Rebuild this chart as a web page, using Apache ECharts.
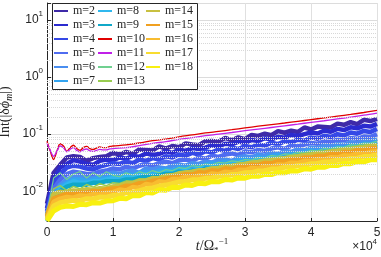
<!DOCTYPE html>
<html><head><meta charset="utf-8">
<script src="https://cdn.jsdelivr.net/npm/echarts@6/dist/echarts.min.js"></script>
<style>html,body{margin:0;padding:0;background:#fff}#c{width:381px;height:257px}</style>
</head><body><div id="c"></div>
<script>
// time samples (simulation time, units of 1/Omega_*)
const t = [0,1000,2000,3000,4000,5000,6000,7000,8000,9000,10000,11000,12000,13000,14000,15000,16000,17000,18000,19000,20000,21000,22000,23000,24000,25000,26000,27000,28000,29000,30000,31000,32000,33000,34000,35000,36000,37000,38000,39000,40000,41000,42000,43000,44000,45000,46000,47000,48000,49000,50000];
const tOsc = [0,500,1000,1500,2000,2500,3000,3500,4000,4500,5000,5500,6000,6500,7000,7500,8000,8500,9000,9500,10000,12000,14000,16000,18000,20000,22000,24000,26000,28000,30000,32000,34000,36000,38000,40000,42000,44000,46000,48000,50000];

const m2 = [0.006,0.021,0.029,0.039,0.041,0.04,0.034,0.038,0.04,0.041,0.047,0.044,0.049,0.045,0.054,0.053,0.052,0.061,0.056,0.062,0.059,0.069,0.066,0.064,0.075,0.076,0.074,0.086,0.078,0.088,0.082,0.097,0.093,0.102,0.096,0.113,0.106,0.115,0.109,0.131,0.121,0.136,0.134,0.131,0.153,0.146,0.163,0.15,0.179,0.17,0.185];
const m3 = [0.005,0.016,0.026,0.03,0.035,0.033,0.03,0.029,0.034,0.036,0.035,0.039,0.037,0.042,0.04,0.046,0.043,0.045,0.05,0.047,0.054,0.051,0.057,0.055,0.058,0.064,0.061,0.068,0.066,0.074,0.07,0.079,0.076,0.085,0.081,0.09,0.087,0.097,0.093,0.1,0.107,0.103,0.116,0.11,0.124,0.118,0.132,0.127,0.14,0.136,0.152];
const m4 = [0.0045,0.013,0.02,0.026,0.028,0.027,0.025,0.024,0.027,0.029,0.031,0.03,0.033,0.031,0.036,0.034,0.038,0.036,0.041,0.039,0.044,0.042,0.047,0.044,0.05,0.048,0.054,0.051,0.058,0.055,0.062,0.059,0.066,0.063,0.071,0.067,0.075,0.072,0.08,0.077,0.088,0.083,0.094,0.089,0.1,0.095,0.107,0.102,0.114,0.109,0.124];
const m5 = [0.004,0.011,0.016,0.02,0.022,0.021,0.02,0.02,0.022,0.023,0.025,0.024,0.027,0.025,0.028,0.03,0.028,0.031,0.033,0.031,0.035,0.036,0.034,0.039,0.037,0.042,0.04,0.044,0.046,0.043,0.05,0.048,0.053,0.051,0.056,0.059,0.055,0.063,0.061,0.066,0.07,0.068,0.075,0.073,0.08,0.078,0.086,0.083,0.091,0.089,0.1];
const m6 = [0.0037,0.009,0.013,0.016,0.018,0.018,0.017,0.017,0.018,0.02,0.021,0.02,0.022,0.023,0.021,0.025,0.024,0.026,0.025,0.028,0.029,0.028,0.031,0.03,0.033,0.032,0.035,0.036,0.034,0.039,0.041,0.039,0.044,0.042,0.047,0.045,0.05,0.049,0.054,0.052,0.058,0.057,0.063,0.061,0.067,0.065,0.072,0.07,0.077,0.075,0.083];
const m7 = [0.0035,0.008,0.012,0.014,0.016,0.016,0.015,0.016,0.017,0.017,0.019,0.018,0.02,0.019,0.021,0.022,0.021,0.023,0.024,0.023,0.026,0.025,0.028,0.027,0.029,0.031,0.03,0.033,0.032,0.035,0.037,0.035,0.039,0.038,0.041,0.043,0.041,0.046,0.045,0.049,0.052,0.05,0.055,0.054,0.059,0.058,0.063,0.062,0.068,0.067,0.074];
const m8 = [0.0033,0.007,0.011,0.013,0.015,0.014,0.014,0.015,0.015,0.016,0.017,0.016,0.018,0.017,0.019,0.02,0.019,0.021,0.022,0.021,0.023,0.024,0.023,0.026,0.025,0.027,0.028,0.027,0.03,0.031,0.033,0.032,0.035,0.034,0.037,0.038,0.037,0.041,0.042,0.044,0.047,0.045,0.049,0.05,0.053,0.052,0.057,0.058,0.061,0.06,0.067];
const m9 = [0.003,0.006,0.01,0.012,0.013,0.013,0.013,0.014,0.014,0.015,0.015,0.015,0.016,0.016,0.017,0.018,0.018,0.019,0.02,0.02,0.022,0.021,0.023,0.022,0.025,0.024,0.026,0.027,0.026,0.029,0.03,0.029,0.032,0.031,0.034,0.035,0.034,0.037,0.039,0.038,0.043,0.042,0.045,0.046,0.048,0.05,0.052,0.053,0.056,0.057,0.061];
const m10 = [0.075,0.05,0.036,0.05,0.068,0.062,0.05,0.058,0.064,0.056,0.052,0.058,0.061,0.056,0.054,0.057,0.06,0.058,0.058,0.061,0.062,0.065,0.07,0.077,0.082,0.09,0.097,0.105,0.112,0.12,0.129,0.138,0.147,0.157,0.168,0.18,0.193,0.207,0.222,0.24,0.262];
const m11 = [0.07,0.052,0.041,0.05,0.062,0.058,0.049,0.054,0.058,0.052,0.049,0.053,0.055,0.051,0.05,0.052,0.054,0.053,0.053,0.055,0.056,0.058,0.063,0.069,0.074,0.081,0.087,0.094,0.1,0.107,0.115,0.123,0.131,0.14,0.15,0.161,0.172,0.185,0.199,0.215,0.235];
const m12 = [0.004,0.017,0.021,0.016,0.02,0.022,0.017,0.021,0.018,0.022,0.019,0.018,0.021,0.019,0.022,0.02,0.023,0.021,0.024,0.023,0.026,0.025,0.028,0.027,0.03,0.029,0.032,0.031,0.034,0.033,0.036,0.035,0.039,0.038,0.042,0.041,0.045,0.044,0.048,0.047,0.052,0.051,0.056,0.055,0.06,0.059,0.065,0.064,0.07,0.069,0.076];
const m13 = [0.0035,0.011,0.0125,0.0102,0.0121,0.011,0.0131,0.0118,0.0135,0.0125,0.0141,0.0137,0.0152,0.0149,0.0165,0.0163,0.0181,0.0178,0.0197,0.0195,0.0216,0.0224,0.0232,0.0243,0.0251,0.0263,0.0273,0.0285,0.0296,0.031,0.0322,0.0334,0.0349,0.0362,0.0377,0.0392,0.0407,0.0424,0.0441,0.0458,0.0476,0.0495,0.0514,0.0534,0.0554,0.0576,0.0598,0.0621,0.0645,0.0669,0.0685];
const m14 = [0.0038,0.009,0.0098,0.0094,0.0103,0.0101,0.0108,0.0106,0.0113,0.0112,0.0121,0.0125,0.0136,0.0139,0.0151,0.0154,0.0168,0.0171,0.0186,0.019,0.0206,0.0213,0.0219,0.0232,0.0236,0.025,0.0255,0.0269,0.0276,0.0292,0.0301,0.0315,0.0324,0.0339,0.035,0.0365,0.0376,0.0394,0.0405,0.0424,0.0437,0.0456,0.047,0.0491,0.0506,0.0528,0.0545,0.0568,0.0586,0.0611,0.0628];
const m15 = [0.0036,0.0075,0.0082,0.009,0.0088,0.0095,0.0094,0.0101,0.0099,0.0108,0.0112,0.0114,0.0125,0.0126,0.0138,0.0141,0.0152,0.0158,0.0168,0.0176,0.0185,0.0199,0.0196,0.0215,0.0211,0.0233,0.0226,0.0252,0.0244,0.0271,0.0266,0.0292,0.0286,0.0313,0.0308,0.0337,0.0333,0.0362,0.0359,0.039,0.0388,0.042,0.0415,0.0452,0.0446,0.0486,0.048,0.0523,0.0517,0.0562,0.0575];
const m16 = [0.0034,0.0065,0.0074,0.0079,0.0077,0.0084,0.0082,0.0089,0.0087,0.0094,0.0096,0.0107,0.0103,0.0119,0.0114,0.0134,0.0128,0.0149,0.0143,0.0164,0.0163,0.0178,0.0172,0.019,0.0184,0.0205,0.0199,0.022,0.0214,0.0238,0.0235,0.0255,0.025,0.0274,0.0269,0.0295,0.0289,0.0317,0.0311,0.0342,0.0338,0.0366,0.0362,0.0394,0.0389,0.0424,0.0419,0.0457,0.0452,0.0491,0.0503];
const m17 = [0.0032,0.0055,0.0063,0.0066,0.0069,0.0068,0.0074,0.0073,0.0079,0.0078,0.0084,0.0086,0.0094,0.0096,0.0102,0.011,0.0114,0.0122,0.0128,0.0135,0.0146,0.0148,0.0158,0.0159,0.0168,0.0171,0.0182,0.0184,0.0196,0.0198,0.0211,0.0212,0.0227,0.0229,0.0244,0.0246,0.0262,0.0265,0.0282,0.0284,0.0303,0.0306,0.0325,0.0328,0.0349,0.0353,0.0376,0.0379,0.0404,0.0408,0.0433];
const m18 = [0.003,0.0045,0.0052,0.0055,0.0054,0.0059,0.0058,0.0063,0.0062,0.0067,0.0068,0.0075,0.0074,0.0084,0.0083,0.0095,0.0093,0.0106,0.0104,0.0117,0.0116,0.0129,0.0126,0.0138,0.0135,0.0148,0.0146,0.016,0.0157,0.0171,0.0169,0.0184,0.0182,0.0198,0.0196,0.0213,0.021,0.0229,0.0226,0.0247,0.0243,0.0265,0.0262,0.0286,0.0282,0.0307,0.0304,0.0331,0.0327,0.0356,0.0355];

const modes = ['m=2','m=3','m=4','m=5','m=6','m=7','m=8','m=9','m=10','m=11','m=12','m=13','m=14','m=15','m=16','m=17','m=18'];
const values = [m2,m3,m4,m5,m6,m7,m8,m9,m10,m11,m12,m13,m14,m15,m16,m17,m18];
const colors = ['#3e2aa8','#2b2bcf','#3548e6','#4f6cf0','#4a8ef0','#33a4f0','#30b8ee','#10a8c8','#e00000','#c020e8','#70d090','#98cc50','#c8c040','#f0a020','#f8bc30','#f8dc30','#f8f010'];
const widths = [4.5,4.5,4.5,4.5,4.5,4.5,4.5,4.5,1.3,1.3,1.2,1.5,4.5,4.5,4.5,5,5];
const minorGrid = [0.004,0.005,0.006,0.007,0.008,0.009,0.02,0.03,0.04,0.05,0.06,0.07,0.08,0.09,0.2,0.3,0.4,0.5,0.6,0.7,0.8,0.9,2,3,4,5,6,7,8,9];

const txt = '#262626';
const series = modes.map((name, k) => {
  const xs = (name === 'm=10' || name === 'm=11') ? tOsc : t;
  return {
    name, type: 'line', showSymbol: false, symbol: 'none',
    smooth: (name === 'm=10' || name === 'm=11') ? 0.35 : false,
    color: colors[k],
    lineStyle: { width: widths[k], color: colors[k] },
    data: xs.map((x, i) => [x, values[k][i]]),
    z: 3, animation: false
  };
});
series.unshift({
  type: 'line', data: [], z: 1, silent: true, animation: false,
  markLine: {
    silent: true, symbol: ['none', 'none'], label: { show: false }, animation: false,
    lineStyle: { type: [1, 1], color: '#d8d8d8', width: 1 },
    data: minorGrid.map(v => ({ yAxis: v }))
  }
});

const chart = echarts.init(document.getElementById('c'), null, { renderer: 'canvas' });
const legendCommon = {
  orient: 'vertical', padding: 0, itemGap: 0, itemWidth: 14, itemHeight: 2, icon: 'rect',
  textStyle: { fontFamily: 'Liberation Serif', fontSize: 12, color: txt, lineHeight: 14 },
  z: 11, selectedMode: false
};
chart.setOption({
  animation: false,
  backgroundColor: '#fff',
  grid: { left: 47, right: 4, top: 3, bottom: 36, containLabel: false, outerBoundsMode: 'none' },
  legend: [
    Object.assign({ left: 54, top: 4, data: modes.slice(0, 6) }, legendCommon),
    Object.assign({ left: 98, top: 4, data: modes.slice(6, 12) }, legendCommon),
    Object.assign({ left: 146, top: 4, data: modes.slice(12) }, legendCommon)
  ],
  graphic: [
    { type: 'rect', z: 10, shape: { x: 52.5, y: 3.5, width: 145, height: 86 },
      style: { fill: '#fff', stroke: txt, lineWidth: 1 } },
    { type: 'text', z: 10, x: 377, y: 256,
      style: { text: '×10{s|4}', align: 'right', verticalAlign: 'bottom',
        font: '12px "Liberation Sans"', fill: txt, lineHeight: 18,
        rich: { s: { fontSize: 8, fill: txt, verticalAlign: 'top', lineHeight: 8 } } } }
  ],
  xAxis: {
    type: 'value', min: 0, max: 50000, interval: 10000,
    name: '{i|t}{r|/Ω}{s|*}{p|−1}', nameLocation: 'middle', nameGap: 16, nameMoveOverlap: false,
    nameTextStyle: { fontFamily: 'Liberation Serif', fontSize: 14, color: txt, lineHeight: 18,
      rich: {
        i: { fontFamily: 'Liberation Serif', fontStyle: 'italic', fontSize: 14, color: txt },
        r: { fontFamily: 'Liberation Serif', fontSize: 14, color: txt },
        s: { fontFamily: 'Liberation Serif', fontSize: 9, color: txt, verticalAlign: 'bottom', lineHeight: 9 },
        p: { fontFamily: 'Liberation Serif', fontSize: 9, color: txt, verticalAlign: 'top', lineHeight: 9 }
      } },
    axisLine: { show: true, lineStyle: { color: txt, width: 1 } },
    axisTick: { inside: true, length: 3, lineStyle: { color: txt } },
    axisLabel: { margin: 6, fontFamily: 'Liberation Sans', fontSize: 12, color: txt,
      formatter: v => String(v / 10000) },
    splitLine: { show: true, lineStyle: { color: '#e0e0e0', width: 1 } }
  },
  yAxis: {
    type: 'log', logBase: 10, min: 0.003, max: 20,
    name: 'Int(|δ{i|ϕ}{s|m}|)', nameLocation: 'middle', nameGap: 33, nameRotate: 90, nameMoveOverlap: false,
    nameTextStyle: { fontFamily: 'Liberation Serif', fontSize: 14, color: txt, lineHeight: 18,
      rich: {
        i: { fontFamily: 'Liberation Serif', fontStyle: 'italic', fontSize: 14, color: txt },
        s: { fontFamily: 'Liberation Serif', fontStyle: 'italic', fontSize: 10, color: txt, verticalAlign: 'bottom', lineHeight: 10 }
      } },
    axisLine: { show: true, lineStyle: { color: txt, width: 1 } },
    axisTick: { inside: true, length: 4, lineStyle: { color: txt } },
    axisLabel: { margin: 4, fontFamily: 'Liberation Sans', fontSize: 12, color: txt, lineHeight: 20,
      showMinLabel: true, showMaxLabel: true,
      formatter: v => {
        const e = Math.log10(v), r = Math.round(e);
        if (Math.abs(e - r) > 1e-6) return '';
        return '10{s|' + (r < 0 ? '-' + (-r) : r) + '}';
      },
      rich: { s: { fontFamily: 'Liberation Sans', fontSize: 8, color: txt, verticalAlign: 'top', lineHeight: 8 } } },
    splitLine: { show: true, lineStyle: { color: '#dcdcdc', width: 1 } }
  },
  series
});
</script></body></html>
